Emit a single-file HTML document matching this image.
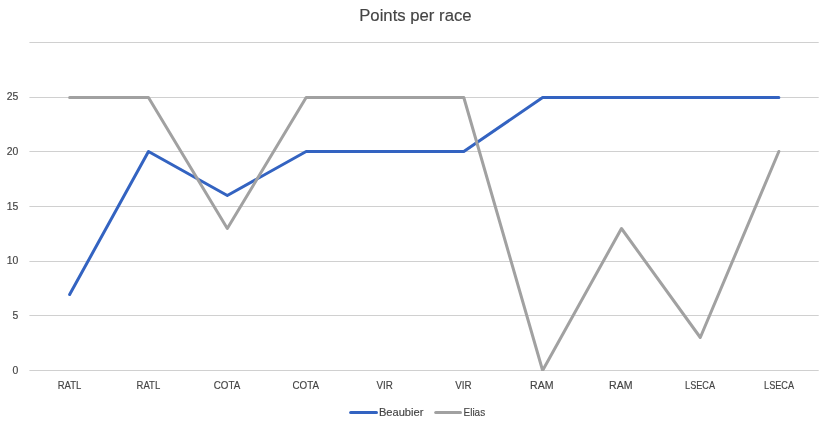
<!DOCTYPE html>
<html><head><meta charset="utf-8"><title>Points per race</title>
<style>
html,body{margin:0;padding:0;background:#fff;}
body{width:827px;height:431px;overflow:hidden;font-family:"Liberation Sans",sans-serif;}
svg{display:block;will-change:transform;}
text{font-family:"Liberation Sans",sans-serif;fill:#444;stroke:#444;stroke-width:0.15px;}
</style></head><body>
<svg width="827" height="431" viewBox="0 0 827 431">
<rect width="827" height="431" fill="#ffffff"/>
<text x="415.4" y="20.7" text-anchor="middle" font-size="16.8" textLength="112.4" fill="#444" stroke-width="0.2" lengthAdjust="spacingAndGlyphs">Points per race</text>
<g>
<rect x="29.4" y="370" width="789.3" height="1" fill="#d0d0d0"/>
<rect x="29.4" y="315" width="789.3" height="1" fill="#d0d0d0"/>
<rect x="29.4" y="261" width="789.3" height="1" fill="#d0d0d0"/>
<rect x="29.4" y="206" width="789.3" height="1" fill="#d0d0d0"/>
<rect x="29.4" y="151" width="789.3" height="1" fill="#d0d0d0"/>
<rect x="29.4" y="97" width="789.3" height="1" fill="#d0d0d0"/>
<rect x="29.4" y="42" width="789.3" height="1" fill="#d0d0d0"/>
</g>
<g font-size="10.6">
<text x="18.3" y="374" text-anchor="end" textLength="5.8" lengthAdjust="spacingAndGlyphs">0</text>
<text x="18.3" y="319" text-anchor="end" textLength="5.8" lengthAdjust="spacingAndGlyphs">5</text>
<text x="18.3" y="264" text-anchor="end" textLength="11.6" lengthAdjust="spacingAndGlyphs">10</text>
<text x="18.3" y="210" text-anchor="end" textLength="11.6" lengthAdjust="spacingAndGlyphs">15</text>
<text x="18.3" y="155" text-anchor="end" textLength="11.6" lengthAdjust="spacingAndGlyphs">20</text>
<text x="18.3" y="100" text-anchor="end" textLength="11.6" lengthAdjust="spacingAndGlyphs">25</text>
<text x="69.55" y="389" text-anchor="middle" textLength="23.6" lengthAdjust="spacingAndGlyphs">RATL</text>
<text x="148.40" y="389" text-anchor="middle" textLength="23.6" lengthAdjust="spacingAndGlyphs">RATL</text>
<text x="227.00" y="389" text-anchor="middle" textLength="26.5" lengthAdjust="spacingAndGlyphs">COTA</text>
<text x="305.75" y="389" text-anchor="middle" textLength="26.5" lengthAdjust="spacingAndGlyphs">COTA</text>
<text x="384.60" y="389" text-anchor="middle" textLength="16.4" lengthAdjust="spacingAndGlyphs">VIR</text>
<text x="463.50" y="389" text-anchor="middle" textLength="16.4" lengthAdjust="spacingAndGlyphs">VIR</text>
<text x="541.80" y="389" text-anchor="middle" textLength="23.5" lengthAdjust="spacingAndGlyphs">RAM</text>
<text x="620.85" y="389" text-anchor="middle" textLength="23.5" lengthAdjust="spacingAndGlyphs">RAM</text>
<text x="700.05" y="389" text-anchor="middle" textLength="30" lengthAdjust="spacingAndGlyphs">LSECA</text>
<text x="779.05" y="389" text-anchor="middle" textLength="30" lengthAdjust="spacingAndGlyphs">LSECA</text>
</g>
<defs><clipPath id="pa"><rect x="0" y="0" width="827" height="371"/></clipPath></defs>
<g clip-path="url(#pa)">
<polyline points="69.65,294.50 148.48,151.50 227.31,195.50 306.14,151.50 384.97,151.50 463.80,151.50 542.63,97.50 621.46,97.50 700.29,97.50 778.85,97.50" fill="none" stroke="#3363c1" stroke-width="3" stroke-linecap="round" stroke-linejoin="round"/>
<polyline points="69.65,97.50 148.48,97.50 227.31,228.50 306.14,97.50 384.97,97.50 463.80,97.50 542.63,370.50 621.46,228.50 700.29,337.50 778.85,151.50" fill="none" stroke="#a1a1a1" stroke-width="3" stroke-linecap="round" stroke-linejoin="round"/>
</g>
<line x1="350.6" y1="412.5" x2="376.5" y2="412.5" stroke="#3363c1" stroke-width="3" stroke-linecap="round"/>
<line x1="435.7" y1="412.5" x2="460.5" y2="412.5" stroke="#a1a1a1" stroke-width="3" stroke-linecap="round"/>
<g font-size="10.6">
<text x="378.9" y="416.2" textLength="44.5" lengthAdjust="spacingAndGlyphs">Beaubier</text>
<text x="463.6" y="416.2" textLength="21.5" lengthAdjust="spacingAndGlyphs">Elias</text>
</g>
</svg>
</body></html>
